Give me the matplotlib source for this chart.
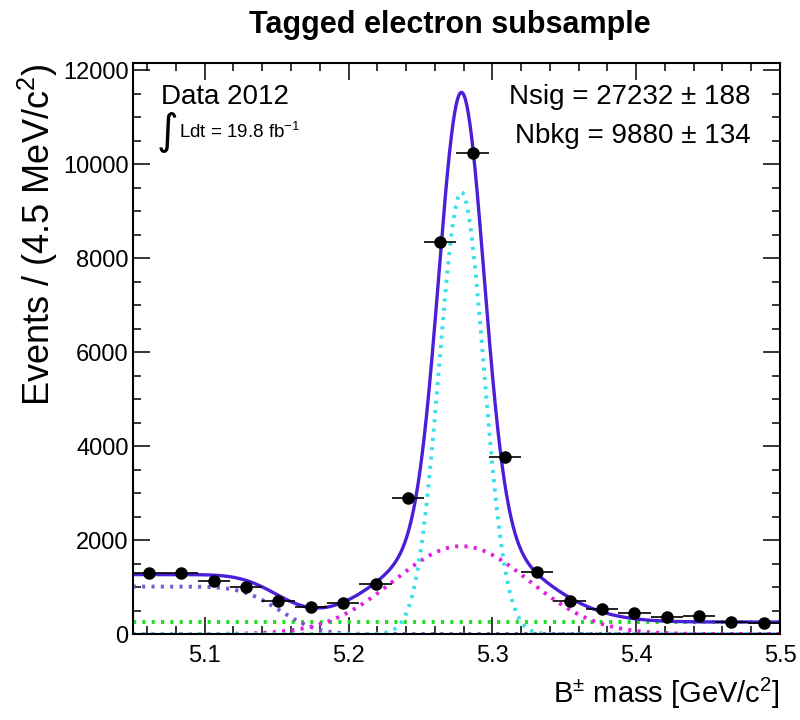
import math
import numpy as np
import matplotlib
matplotlib.use("Agg")
import matplotlib.pyplot as plt

plt.rcParams['font.family'] = ['Liberation Sans', 'DejaVu Sans']
plt.rcParams['mathtext.fontset'] = 'custom'
plt.rcParams['mathtext.rm'] = 'Liberation Sans'
plt.rcParams['mathtext.it'] = 'Liberation Sans:italic'
plt.rcParams['mathtext.bf'] = 'Liberation Sans:bold'

# ---- data ----
bin_centers = [5.06125, 5.08375, 5.10625, 5.12875, 5.15125, 5.17375, 5.19625,
               5.21875, 5.24125, 5.26375, 5.28625, 5.30875, 5.33125, 5.35375,
               5.37625, 5.39875, 5.42125, 5.44375, 5.46625, 5.48875]
counts = [1290, 1290, 1130, 1010, 710, 575, 670, 1060, 2890, 8340,
          10230, 3770, 1330, 710, 530, 445, 370, 380, 265, 235]
bin_half_width = 0.01125

# fit components (parameters)
narrow_sig = {"height": 9400, "mean": 5.2785, "sigma": 0.0155}
wide_sig = {"height": 1870, "mean": 5.2785, "sigma": 0.047}
partreco_bkg = {"plateau": 1010, "edge": 5.152, "width": 0.021}
flat_bkg = {"level": 255}

title = "Tagged electron subsample"
x_ticks = [5.1, 5.2, 5.3, 5.4, 5.5]
y_ticks = [0, 2000, 4000, 6000, 8000, 10000, 12000]

# ---- model curves ----
xs = np.linspace(5.05, 5.5, 900)
def gauss(p):
    return p["height"] * np.exp(-0.5 * ((xs - p["mean"]) / p["sigma"]) ** 2)
narrow = gauss(narrow_sig)
wide = gauss(wide_sig)
partreco = partreco_bkg["plateau"] * 0.5 * np.array(
    [math.erfc((x - partreco_bkg["edge"]) / (math.sqrt(2) * partreco_bkg["width"])) for x in xs])
flat = np.full_like(xs, flat_bkg["level"])
total = narrow + wide + partreco + flat

fig = plt.figure(figsize=(8, 7.2), dpi=100)
ax = fig.add_axes([0.166, 0.1194, 0.809, 0.7931])

dot = (0, (0.8, 1.6))
ax.plot(xs, flat, color='#22dd22', lw=2.8, ls=dot)
ax.plot(xs, partreco, color='#7a58d6', lw=2.8, ls=dot)
ax.plot(xs, wide, color='#e020e0', lw=2.8, ls=dot)
ax.plot(xs, narrow, color='#35e0ea', lw=2.8, ls=dot)
ax.plot(xs, total, color='#4b1ed8', lw=2.4)

ax.errorbar(bin_centers, counts, xerr=bin_half_width, yerr=np.sqrt(counts),
            fmt='o', color='black', ms=8, elinewidth=1.2, capsize=0, zorder=5)

ax.set_xlim(5.05, 5.5)
ax.set_ylim(0, 12150)
ax.set_xticks(x_ticks)
ax.set_xticklabels([f"{t:.1f}" for t in x_ticks])
ax.set_xticks(np.arange(5.06, 5.5, 0.02), minor=True)
ax.set_yticks(y_ticks)
ax.set_yticks(np.arange(0, 12150, 500), minor=True)
ax.tick_params(which='both', direction='in', top=True, right=True, labelsize=17, width=1.1)
ax.tick_params(which='major', length=12)
ax.tick_params(which='minor', length=6)
ax.tick_params(axis='x', pad=8)
ax.tick_params(axis='y', pad=3)
for s in ax.spines.values():
    s.set_linewidth(1.5)

ax.set_ylabel("Events / (4.5 MeV/c$^{2}$)", fontsize=26, loc='top')
ax.yaxis.set_label_coords(-0.112, 1.0)
ax.set_xlabel("B$^{\\pm}$ mass [GeV/c$^{2}$]", fontsize=21, loc='right', labelpad=6)
fig.text(0.5625, 0.965, title, ha='center', va='center', fontsize=22, fontweight='bold')

ax.text(0.043, 0.94, "Data 2012", transform=ax.transAxes, fontsize=20, va='center', ha='left')
ax.text(0.037, 0.88, "\u222b", transform=ax.transAxes, fontsize=30, va='center', ha='left',
        family=['DejaVu Sans'])
ax.text(0.072, 0.88, "Ldt = 19.8 fb$^{-1}$", transform=ax.transAxes, fontsize=13.5, va='center', ha='left')

ax.text(0.955, 0.94, "Nsig = 27232 \u00b1 188", transform=ax.transAxes, fontsize=20, ha='right', va='center')
ax.text(0.955, 0.873, "Nbkg = 9880 \u00b1 134", transform=ax.transAxes, fontsize=20, ha='right', va='center')

fig.savefig("out.png", dpi=100)
